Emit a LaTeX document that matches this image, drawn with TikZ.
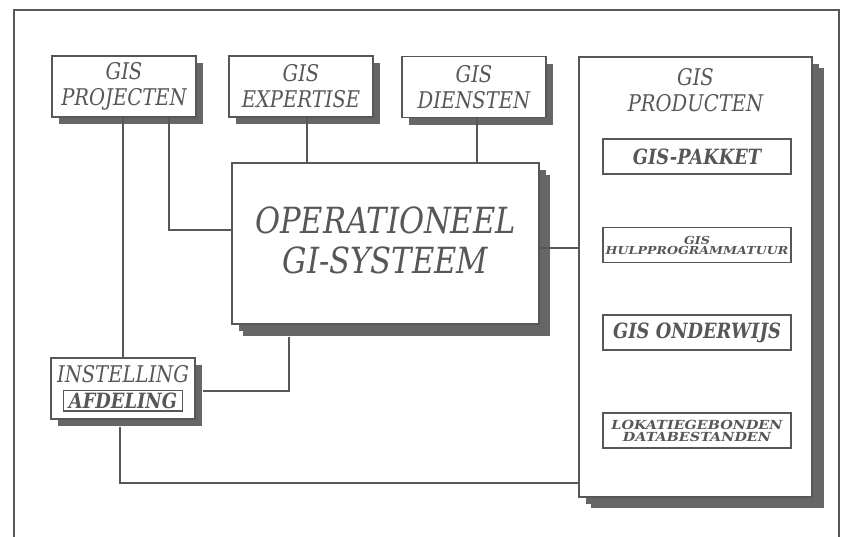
\documentclass[tikz,border=0pt]{standalone}
\usepackage{fontspec}
\setmainfont{DejaVu Serif}[FakeStretch=0.85]
\newfontfamily\widefont{DejaVu Serif}[FakeStretch=1.15]
\usetikzlibrary{shadows}
\definecolor{ink}{HTML}{575757}
\definecolor{shade}{HTML}{666666}

\begin{document}
\begin{tikzpicture}
[x=1pt, y=-1pt, every node/.style={inner sep=0pt, text=ink, align=center},
 line width=1.6pt, draw=ink]
\tikzset{
  unitbox/.style={draw=ink, fill=white, line width=1.6pt, minimum width=144pt, minimum height=61pt,
    font=\fontsize{23}{26}\selectfont\itshape,
    drop shadow={shadow xshift=7pt, shadow yshift=-7pt, fill=shade, opacity=1}},
  itembox/.style={draw=ink, fill=white, line width=1.4pt, minimum width=188pt, minimum height=35pt},
  itemtext/.style={font=\fontsize{21}{22}\selectfont\bfseries\itshape},
  smalltext/.style={font=\widefont\fontsize{11}{10}\selectfont\bfseries\itshape},
  link/.style={draw=ink, line width=1.6pt}
}
\useasboundingbox (0,0) rectangle (841,536);
% frame
\draw [link] (14,545) -- (14,10) -- (839,10) -- (839,545);
% top row
\node (proj) [unitbox] at (124, 86.5) {GIS\\PROJECTEN};
\node (exp) [unitbox] at (301, 86.5) {GIS\\EXPERTISE};
\node (dien) [unitbox] at (474, 87) {GIS\\DIENSTEN};
% centre
\node (op) [unitbox, minimum width=307pt, minimum height=161pt, font=\fontsize{36}{40}\selectfont\itshape,
  drop shadow={shadow xshift=11pt, shadow yshift=-12pt, fill=shade, opacity=1}] at (385.5, 243.5)
  {\raisebox{6pt}{OPERATIONEEL}\\\raisebox{6pt}{GI-SYSTEEM}};
\node (inst) [unitbox, font=\fontsize{23}{25}\selectfont\itshape] at (123, 388.5)
  {INSTELLING\\[1pt]{\setlength{\fboxsep}{1.5pt}\setlength{\fboxrule}{1.2pt}\fbox{\fontsize{21}{22}\selectfont\bfseries\,AFDELING\,}}};
% products
\node (prod) [unitbox, minimum width=233pt, minimum height=440pt,
  drop shadow={shadow xshift=12pt, shadow yshift=-11pt, fill=shade, opacity=1}] at (695.5, 277) {};
\node (prodtitle) [font=\fontsize{23}{26}\selectfont\itshape, anchor=north] at ([yshift=-11pt]prod.north) {GIS\\PRODUCTEN};
\node (pakket) [itembox, itemtext] at (697, 156.5) {GIS-PAKKET};
\node (hulp) [itembox, smalltext] at (697, 245) {GIS\\HULPPROGRAMMATUUR};
\node (onder) [itembox, itemtext] at (697, 332.5) {GIS ONDERWIJS};
\node (lok) [itembox, smalltext, font=\widefont\fontsize{12.5}{12}\selectfont\bfseries\itshape] at (697, 430.5) {LOKATIEGEBONDEN\\DATABESTANDEN};
% connectors
\draw [link] (inst.north |- proj.south) -- (inst.north);
\draw [link] ([xshift=45pt]proj.south) |- ([yshift=13.5pt]op.west);
\draw [link] ([xshift=6pt]exp.south) -- ([xshift=6pt]exp.south |- op.north);
\draw [link] ([xshift=3pt]dien.south) -- ([xshift=3pt]dien.south |- op.north);
\draw [link] ([yshift=-4.5pt]op.east) -- ([yshift=-4.5pt]op.east -| prod.west);
\draw [link] ([xshift=-96.5pt, yshift=-12pt]op.south) |- ([xshift=7pt, yshift=-2.5pt]inst.east);
\draw [link] ([xshift=-3pt, yshift=-7pt]inst.south) |- ([yshift=-206pt]prod.west);
\end{tikzpicture}
\end{document}
